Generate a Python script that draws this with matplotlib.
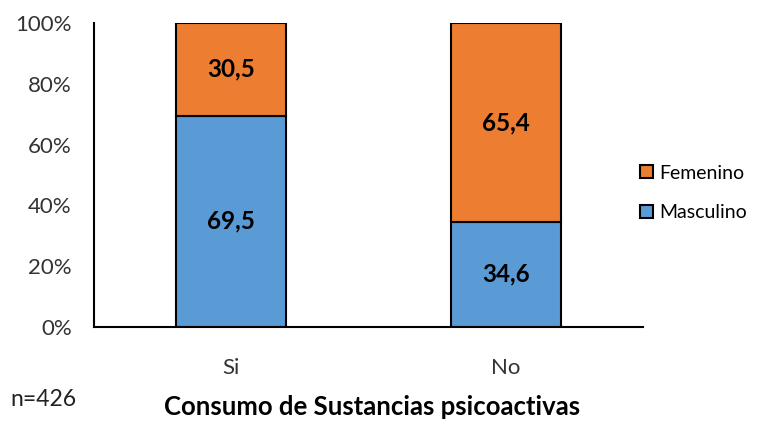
import matplotlib.pyplot as plt
from matplotlib.patches import Patch
from matplotlib.ticker import PercentFormatter

plt.rcParams["font.family"] = ["Lato", "DejaVu Sans"]

categorias = ["Si", "No"]
masculino = [69.5, 34.6]
femenino = [30.5, 65.4]

AZUL = "#5B9BD5"
NARANJA = "#ED7D31"

fig = plt.figure(figsize=(7.67, 4.23), dpi=100)
ax = fig.add_axes([0.1226, 0.227, 0.7155, 0.7185])

x = range(len(categorias))
b1 = ax.bar(x, masculino, width=0.40, color=AZUL, edgecolor="black", linewidth=1.5)
b2 = ax.bar(x, femenino, width=0.40, bottom=masculino, color=NARANJA,
            edgecolor="black", linewidth=1.5)

for barras, vals in ((b1, masculino), (b2, femenino)):
    for r, v in zip(barras, vals):
        ax.text(r.get_x() + r.get_width() / 2, r.get_y() + r.get_height() / 2,
                f"{v:.1f}".replace(".", ","), ha="center", va="center",
                fontsize=17.5, fontweight="bold", color="black")

ax.set_xlim(-0.5, 1.5)
ax.set_ylim(0, 100)
ax.set_yticks(range(0, 101, 20))
ax.yaxis.set_major_formatter(PercentFormatter(decimals=0))
ax.set_xticks(list(x))
ax.set_xticklabels(categorias)
ax.tick_params(axis="both", length=0, labelsize=16, colors="#333333")
ax.tick_params(axis="x", pad=22)
ax.tick_params(axis="y", pad=16)
for s in ("top", "right"):
    ax.spines[s].set_visible(False)
for s in ("left", "bottom"):
    ax.spines[s].set_linewidth(1.5)

handles = [Patch(facecolor=NARANJA, edgecolor="black", linewidth=1.5),
           Patch(facecolor=AZUL, edgecolor="black", linewidth=1.5)]
fig.legend(handles, ["Femenino", "Masculino"], loc="center left",
           bbox_to_anchor=(0.83, 0.544), frameon=False, fontsize=14,
           handlelength=0.65, handleheight=0.65, handletextpad=0.3,
           labelspacing=1.15, borderaxespad=0, borderpad=0.2)

fig.text(0.013, 0.04, "n=426", fontsize=16.5, color="#222222")
fig.text(0.485, 0.018, "Consumo de Sustancias psicoactivas", ha="center",
         fontsize=18.5, fontweight="bold")

fig.savefig("out.png", dpi=100)
